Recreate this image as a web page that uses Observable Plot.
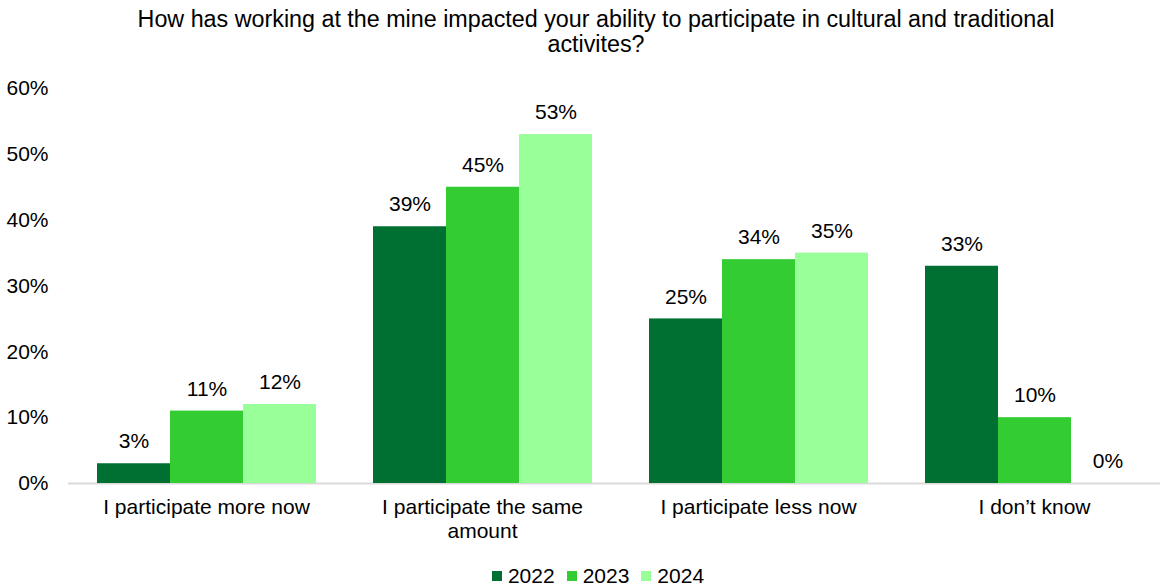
<!DOCTYPE html>
<html>
<head>
<meta charset="utf-8">
<script src="https://cdn.jsdelivr.net/npm/d3@7"></script>
<script src="https://cdn.jsdelivr.net/npm/@observablehq/plot@0.6"></script>
<style>
  html, body { margin: 0; padding: 0; background: #fff; }
  body { width: 1160px; height: 586px; overflow: hidden; font-family: "Liberation Sans", Arial, sans-serif; color: #000; }
  #title { box-sizing: border-box; height: 70px; padding-top: 7px; padding-left: 32px; font-size: 23.3px; line-height: 25px; text-align: center; }
  #legend { display: flex; justify-content: center; align-items: center; padding-left: 36px; font-size: 21px; height: 30px; margin-top: 21px; }
  .item { display: flex; align-items: center; margin: 0 6px; }
  .sw { width: 10px; height: 10px; margin-right: 6px; }
</style>
</head>
<body>
<div id="title">How has working at the mine impacted your ability to participate in cultural and traditional<br>activites?</div>
<div id="chart"></div>
<div id="legend"></div>
<script>
const categories = ["I participate more now", "I participate the same amount", "I participate less now", "I don’t know"];
const categoryLabels = ["I participate more now", "I participate the same\namount", "I participate less now", "I don’t know"];
const years = ["2022", "2023", "2024"];
const values2022 = [3, 39, 25, 33];
const values2023 = [11, 45, 34, 10];
const values2024 = [12, 53, 35, 0];
const yTicks = [0, 10, 20, 30, 40, 50, 60];
const colors = ["#006F32", "#33CC33", "#99FF99"];

const series = [values2022, values2023, values2024];
const data = categories.flatMap((c, i) => years.map((y, j) => ({category: c, year: y, value: series[j][i]})));
const labelOf = new Map(categories.map((c, i) => [c, categoryLabels[i]]));

const chart = Plot.plot({
  width: 1160,
  height: 470,
  marginTop: 18,
  marginLeft: 68,
  marginRight: 0,
  marginBottom: 57,
  style: {fontFamily: "'Liberation Sans', Arial, sans-serif", fontSize: "21px", color: "#000", background: "transparent", overflow: "visible"},
  fx: {domain: categories, range: [68, 1172], padding: 0, label: null},
  x: {domain: years, paddingInner: 0, paddingOuter: 0.375, axis: null},
  y: {domain: [0, 60], label: null},
  color: {domain: years, range: colors},
  marks: [
    Plot.axisY({ticks: yTicks, tickSize: 0, tickPadding: 20, tickFormat: d => d + "%", label: null}),
    Plot.axisFx({anchor: "bottom", tickSize: 0, tickPadding: 13, tickFormat: d => labelOf.get(d), lineHeight: 1.15, label: null}),
    Plot.ruleY([0], {stroke: "#d9d9d9", strokeWidth: 2}),
    Plot.barY(data, {fx: "category", x: "year", y: "value", fill: "year"}),
    Plot.text(data, {fx: "category", x: "year", y: "value", text: d => d.value + "%", dy: -22, fill: "#000"})
  ]
});
document.getElementById("chart").appendChild(chart);

const legend = document.getElementById("legend");
years.forEach((y, i) => {
  const item = document.createElement("div");
  item.className = "item";
  const sw = document.createElement("div");
  sw.className = "sw";
  sw.style.background = colors[i];
  const t = document.createElement("span");
  t.textContent = y;
  item.appendChild(sw);
  item.appendChild(t);
  legend.appendChild(item);
});
</script>
</body>
</html>
